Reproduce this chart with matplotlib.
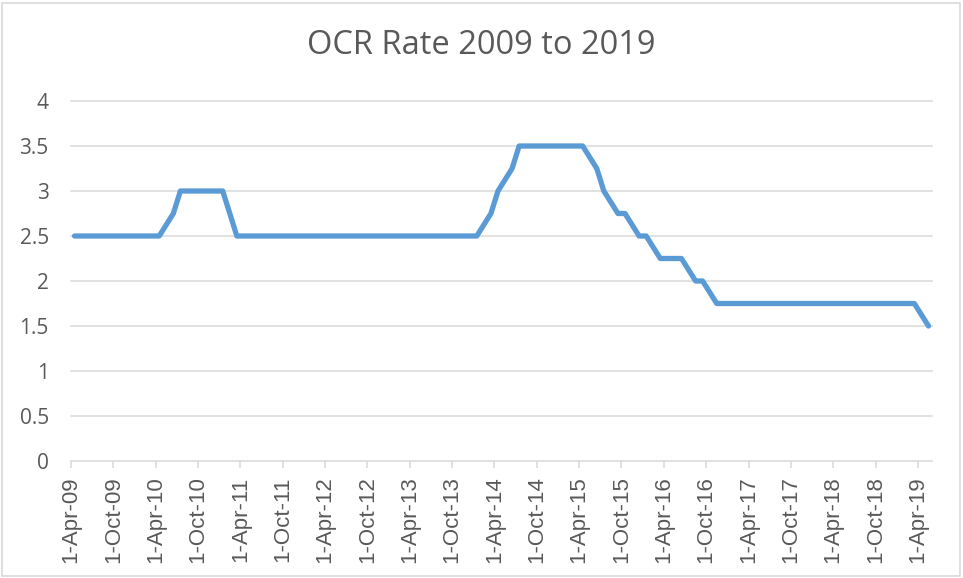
import pandas as pd
import matplotlib
matplotlib.use('Agg')
import matplotlib.pyplot as plt
from matplotlib.patches import Rectangle

# OCR review dates and the rate set at each one
review_dates = [
    '2009-04-30', '2009-06-11', '2009-07-30', '2009-09-10', '2009-10-29', '2009-12-10',
    '2010-01-28', '2010-03-11', '2010-04-29', '2010-06-10', '2010-07-29', '2010-09-16',
    '2010-10-28', '2010-12-09',
    '2011-01-27', '2011-03-10', '2011-04-28', '2011-06-09', '2011-07-28', '2011-09-15',
    '2011-10-27', '2011-12-08',
    '2012-01-26', '2012-03-08', '2012-04-26', '2012-06-14', '2012-07-26', '2012-09-13',
    '2012-10-25', '2012-12-06',
    '2013-01-31', '2013-03-14', '2013-04-25', '2013-06-13', '2013-07-25', '2013-09-12',
    '2013-10-31', '2013-12-12',
    '2014-01-30', '2014-03-13', '2014-04-24', '2014-06-12', '2014-07-24', '2014-09-11',
    '2014-10-30', '2014-12-11',
    '2015-01-29', '2015-03-12', '2015-04-30', '2015-06-11', '2015-07-23', '2015-09-10',
    '2015-10-29', '2015-12-10',
    '2016-01-28', '2016-03-10', '2016-04-28', '2016-06-09', '2016-08-11', '2016-09-22',
    '2016-11-10',
    '2017-02-09', '2017-03-23', '2017-05-11', '2017-06-22', '2017-08-10', '2017-09-28',
    '2017-11-09',
    '2018-02-08', '2018-03-22', '2018-05-10', '2018-06-28', '2018-08-09', '2018-09-27',
    '2018-11-08',
    '2019-02-13', '2019-03-27', '2019-05-08',
]
ocr_rate = [
    2.5, 2.5, 2.5, 2.5, 2.5, 2.5,
    2.5, 2.5, 2.5, 2.75, 3.0, 3.0, 3.0, 3.0,
    3.0, 2.5, 2.5, 2.5, 2.5, 2.5, 2.5, 2.5,
    2.5, 2.5, 2.5, 2.5, 2.5, 2.5, 2.5, 2.5,
    2.5, 2.5, 2.5, 2.5, 2.5, 2.5, 2.5, 2.5,
    2.5, 2.75, 3.0, 3.25, 3.5, 3.5, 3.5, 3.5,
    3.5, 3.5, 3.5, 3.25, 3.0, 2.75, 2.75, 2.5,
    2.5, 2.25, 2.25, 2.25, 2.0, 2.0, 1.75,
    1.75, 1.75, 1.75, 1.75, 1.75, 1.75, 1.75,
    1.75, 1.75, 1.75, 1.75, 1.75, 1.75, 1.75,
    1.75, 1.75, 1.5,
]
y_ticks = [0, 0.5, 1, 1.5, 2, 2.5, 3, 3.5, 4]
y_labels = ['0', '0.5', '1', '1.5', '2', '2.5', '3', '3.5', '4']

start = pd.Timestamp('2009-04-01')
end_months = 122  # Apr-09 through May-19, one slot per month

d = pd.to_datetime(review_dates)
# Excel date axis with month base unit: each point sits mid-month
xpos = (d.year - start.year) * 12 + (d.month - start.month) + 0.5

tick_dates = pd.date_range('2009-04-01', '2019-04-01', freq='6MS')
tick_pos = [(t.year - start.year) * 12 + (t.month - start.month) for t in tick_dates]
tick_labels = [f'{t.day}-{t.strftime("%b-%y")}' for t in tick_dates]

grey = '#d9d9d9'
text_col = '#595959'

fig = plt.figure(figsize=(9.63, 5.78), dpi=100)
ax = fig.add_axes([71 / 963, 1 - 461 / 578, 861 / 963, 360 / 578])

ax.plot(xpos, ocr_rate, color='#5B9BD5', lw=3.8, solid_capstyle='round',
        solid_joinstyle='round', zorder=3)

ax.set_xlim(0, end_months)
ax.set_ylim(0, 4)
for yv in y_ticks[1:]:
    ax.axhline(yv, color=grey, lw=1.1, zorder=1, clip_on=False)

for s in ['top', 'right', 'left']:
    ax.spines[s].set_visible(False)
ax.spines['bottom'].set_color(grey)
ax.spines['bottom'].set_linewidth(1.1)

ax.set_yticks(y_ticks)
ax.set_yticklabels(y_labels, fontfamily='Open Sans', fontsize=15, color=text_col)
ax.tick_params(axis='y', length=0, pad=16)

ax.set_xticks(tick_pos)
ax.set_xticklabels(tick_labels, rotation=90, fontfamily='Liberation Sans',
                   fontsize=16, color=text_col)
ax.tick_params(axis='x', length=5, width=1.1, color=grey, pad=6)

fig.text(481 / 963, 1 - 46 / 578, 'OCR Rate 2009 to 2019', ha='center', va='center',
         fontfamily='Open Sans', fontsize=23.5, color=text_col)

fig.patches.append(Rectangle((2 / 963, 2 / 578), 958 / 963, 573 / 578,
                             transform=fig.transFigure, fill=False,
                             edgecolor=grey, lw=1.2))

fig.savefig('out.png', dpi=100)
